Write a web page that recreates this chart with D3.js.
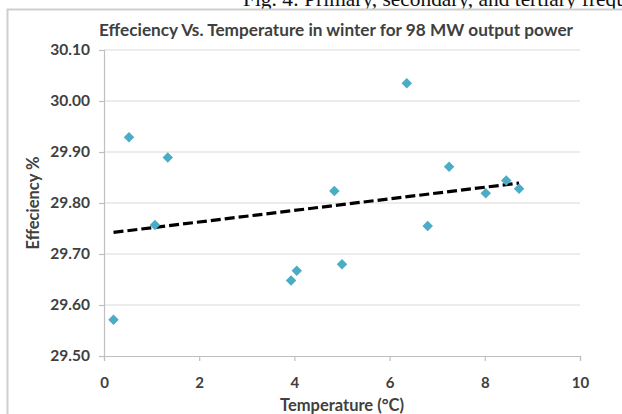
<!DOCTYPE html>
<html><head><meta charset="utf-8">
<script src="https://cdn.jsdelivr.net/npm/d3@7"></script>
<style>html,body{margin:0;padding:0;background:#fff;}svg{display:block;}</style>
</head><body>
<svg id="c" width="622" height="414"></svg>
<script>
const temperature = [0.2, 0.525, 1.07, 1.34, 3.93, 4.05, 4.84, 5.0, 6.36, 6.8, 7.25, 8.02, 8.45, 8.72];
const efficiency  = [29.571, 29.929, 29.757, 29.889, 29.648, 29.667, 29.8235, 29.680, 30.035, 29.755, 29.871, 29.819, 29.844, 29.828];
const xTicks = [0, 2, 4, 6, 8, 10];
const yTicks = [29.50, 29.60, 29.70, 29.80, 29.90, 30.00, 30.10];
const titleText = "Effeciency Vs. Temperature in winter for 98 MW output power";
const xTitle = "Temperature (°C)";
const yTitle = "Effeciency %";
const captionText = "Fig. 4: Primary, secondary, and tertiary frequency";

const svg = d3.select("#c");
const font = "Lato, 'Open Sans', sans-serif";
const L = 104, R = 580, T = 50, B = 356;
const x = d3.scaleLinear().domain([0, 10]).range([L, R]);
const y = d3.scaleLinear().domain([29.5, 30.1]).range([B, T]);

// caption of the page above the chart (clipped at the top, as in the source)
svg.append("text").attr("x", 243).attr("y", 6)
  .attr("font-family", "'Liberation Serif', 'Times New Roman', serif")
  .attr("font-size", 21.4).attr("fill", "#111").text(captionText);

// chart frame
svg.append("rect").attr("x", 7.5).attr("y", 9.5).attr("width", 640).attr("height", 420)
  .attr("fill", "#fff").attr("stroke", "#cfcfcf").attr("stroke-width", 2);

// gridlines
svg.append("g").selectAll("line").data(yTicks.slice(1)).join("line")
  .attr("x1", L).attr("x2", R).attr("y1", d => y(d)).attr("y2", d => y(d))
  .attr("stroke", "#d9d9d9").attr("stroke-width", 1.2);

// y axis
const yAxis = svg.append("g").attr("transform", `translate(${L},0)`)
  .call(d3.axisLeft(y).tickValues(yTicks).tickFormat(d3.format(".2f")).tickSize(5).tickPadding(9));
yAxis.select(".domain").attr("stroke", "#bfbfbf").attr("stroke-width", 1.2);
yAxis.selectAll(".tick line").attr("stroke", "#bfbfbf").attr("stroke-width", 1.2);
yAxis.selectAll("text").attr("font-family", font).attr("font-size", 15.5)
  .attr("font-weight", 700).attr("fill", "#404040");

// x axis
const xAxis = svg.append("g").attr("transform", `translate(0,${B})`)
  .call(d3.axisBottom(x).tickValues(xTicks).tickSize(5).tickPadding(16));
xAxis.select(".domain").attr("stroke", "#bfbfbf").attr("stroke-width", 1.2);
xAxis.selectAll(".tick line").attr("stroke", "#bfbfbf").attr("stroke-width", 1.2);
xAxis.selectAll("text").attr("font-family", font).attr("font-size", 15)
  .attr("font-weight", 700).attr("fill", "#404040");

// trendline (least squares)
const n = temperature.length;
const mx = d3.mean(temperature), my = d3.mean(efficiency);
let sxy = 0, sxx = 0;
for (let i = 0; i < n; i++) { sxy += (temperature[i]-mx)*(efficiency[i]-my); sxx += (temperature[i]-mx)**2; }
const slope = sxy / sxx, icpt = my - slope * mx;
const x0 = d3.min(temperature), x1 = d3.max(temperature);
svg.append("line")
  .attr("x1", x(x0)).attr("y1", y(icpt + slope*x0))
  .attr("x2", x(x1)).attr("y2", y(icpt + slope*x1))
  .attr("stroke", "#000").attr("stroke-width", 3.2).attr("stroke-dasharray", "10,4");

// points
const diamond = d3.symbol().type(d3.symbolDiamond2).size(70);
svg.append("g").selectAll("path").data(temperature.map((t, i) => [t, efficiency[i]])).join("path")
  .attr("d", diamond)
  .attr("transform", d => `translate(${x(d[0])},${y(d[1])})`)
  .attr("fill", "#4bacc6");

// titles
svg.append("text").attr("x", 336).attr("y", 36).attr("text-anchor", "middle")
  .attr("font-family", font).attr("font-size", 17.2).attr("font-weight", 700)
  .attr("fill", "#404040").text(titleText);
svg.append("text").attr("x", 342).attr("y", 411).attr("text-anchor", "middle")
  .attr("font-family", font).attr("font-size", 16.5).attr("font-weight", 700)
  .attr("fill", "#404040").text(xTitle);
svg.append("text").attr("transform", "translate(39,203) rotate(-90)").attr("text-anchor", "middle")
  .attr("font-family", font).attr("font-size", 16.5).attr("font-weight", 700)
  .attr("fill", "#404040").text(yTitle);
</script>
</body></html>
